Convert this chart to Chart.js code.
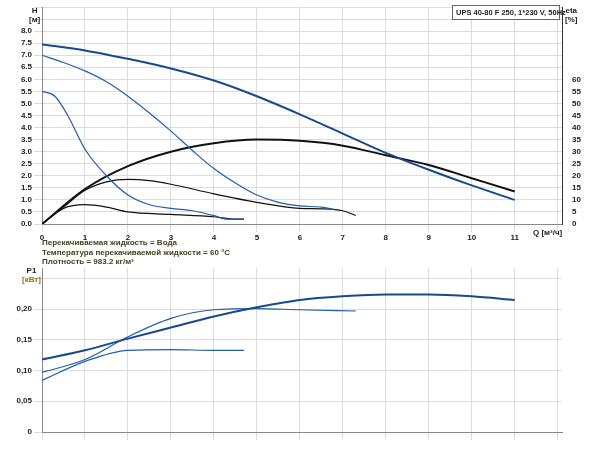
<!DOCTYPE html><html><head><meta charset="utf-8">
<script src="https://cdn.jsdelivr.net/npm/chart.js@4"></script>
<style>
body{margin:0;background:#fff;font-family:"Liberation Sans",Arial,sans-serif;}
.t{position:absolute;font-size:8px;font-weight:bold;color:#222;white-space:nowrap;line-height:9px}
</style></head><body>
<div style="position:absolute;left:0;top:0;width:600px;height:240px"><canvas id="c1"></canvas></div>
<div style="position:absolute;left:0;top:258px;width:600px;height:192px"><canvas id="c2"></canvas></div>
<div class="t" style="left:29px;top:6px;text-align:center">H<br>[м]</div>
<div class="t" style="left:565px;top:6px;text-align:center">eta<br>[%]</div>
<div class="t" style="left:533px;top:228px">Q [м³/ч]</div>
<div class="t" style="left:452px;top:5px;border:1px solid #666;padding:2px 3px;background:#fff;width:100px;font-size:7.5px;box-sizing:border-box;width:108px">UPS 40-80 F 250, 1*230 V, 50Hz</div>
<div class="t" style="left:42px;top:238px;color:#442">Перекачиваемая жидкость = Вода</div>
<div class="t" style="left:42px;top:248px;color:#442">Температура перекачиваемой жидкости = 60 °C</div>
<div class="t" style="left:42px;top:257px;color:#442">Плотность = 983.2 кг/м³</div>
<div class="t" style="left:22px;top:266px;text-align:center">P1<br><span style="color:#a60">[кВт]</span></div>
<script>
const hMaxQ=[0,1,2,3,4,5,6,7,8,9,10,11];
const hMaxV=[7.45,7.2,6.85,6.45,5.95,5.3,4.55,3.75,2.95,2.25,1.6,1.0];
const hMidQ=[0,0.5,1,1.5,2,2.5,3,3.5,4,4.5,5,5.5,6,6.5,6.8];
const hMidV=[7.0,6.7,6.35,5.9,5.3,4.6,3.85,3.05,2.3,1.7,1.2,0.9,0.75,0.7,0.6];
const hLowQ=[0,0.3,0.6,1,1.5,2,2.5,3,3.5,4,4.3,4.7];
const hLowV=[5.5,5.3,4.5,3.1,2.0,1.2,0.8,0.65,0.55,0.35,0.2,0.2];
const eMaxQ=[0,1,2,3,4,5,6,7,8,9,10,11];
const eMaxV=[0,14.5,24,30,33.5,35,34.5,32.5,28.5,24.5,19,13.5];
const eMidQ=[0,0.5,1,1.5,2,2.5,3,4,5,6,6.5,7,7.3];
const eMidV=[0,7,14,17.5,18.5,18,16.5,12.5,9,6.5,6.3,5.5,3.5];
const eLowQ=[0,0.5,1,1.5,2,3,4,4.5,4.7];
const eLowV=[0,6.5,8,7,5,4,3,2,2];
const pMaxQ=[0,1,2,3,4,5,6,7,8,9,10,11];
const pMaxV=[0.118,0.133,0.152,0.170,0.188,0.203,0.215,0.221,0.224,0.224,0.221,0.215];
const pMidQ=[0,1,2,3,4,5,6,7.3];
const pMidV=[0.097,0.118,0.155,0.185,0.199,0.201,0.199,0.197];
const pLowQ=[0,1,2,3,4,4.7];
const pLowV=[0.084,0.115,0.133,0.134,0.133,0.133];
const xTicks=[0,1,2,3,4,5,6,7,8,9,10,11];
const pts=(q,v)=>q.map((x,i)=>({x,y:v[i]}));
const blue='#1f5fa8',dblue='#174a8c',blk='#111';
const ds=(q,v,c,w,ax)=>({data:pts(q,v),borderColor:c,borderWidth:w,pointRadius:0,tension:0.4,cubicInterpolationMode:'monotone',fill:false,yAxisID:ax});
const grid={color:'#dcdcdc',lineWidth:1};
const tf={size:8,weight:'bold',family:'Liberation Sans'};
Chart.defaults.animation=false;
new Chart(document.getElementById('c1'),{type:'line',
data:{datasets:[ds(hMaxQ,hMaxV,dblue,2,'y'),ds(hMidQ,hMidV,blue,1.2,'y'),ds(hLowQ,hLowV,blue,1.2,'y'),
ds(eMaxQ,eMaxV,blk,2,'e'),ds(eMidQ,eMidV,blk,1.2,'e'),ds(eLowQ,eLowV,blk,1.2,'e')]},
options:{responsive:true,maintainAspectRatio:false,layout:{padding:{top:7,left:0,right:0,bottom:0}},
plugins:{legend:{display:false},tooltip:{enabled:false}},
scales:{x:{type:'linear',min:0,max:12.1,grid,border:{color:'#888'},
afterBuildTicks:a=>{a.ticks=[...xTicks,12].map(v=>({value:v}));},
ticks:{font:tf,color:'#222',padding:1,maxRotation:0,autoSkip:false,callback:v=>v<=11?v:''},afterFit:a=>{a.height=16;}},
y:{min:0,max:9,position:'left',grid,border:{color:'#888'},
afterBuildTicks:a=>{const t=[];for(let i=0;i<=18;i++)t.push({value:i*0.5});a.ticks=t;},
ticks:{font:tf,color:'#222',padding:2,autoSkip:false,callback:v=>v<=8?v.toFixed(1):''},afterFit:a=>{a.width=42;}},
e:{min:0,max:90,position:'right',grid:{display:false,drawTicks:true},border:{color:'#333'},
afterBuildTicks:a=>{const t=[];for(let i=0;i<=12;i++)t.push({value:i*5});a.ticks=t;},
ticks:{font:tf,color:'#222',padding:2,autoSkip:false,callback:v=>v},afterFit:a=>{a.width=38;}}}}});
new Chart(document.getElementById('c2'),{type:'line',
data:{datasets:[ds(pMaxQ,pMaxV,dblue,2,'y'),ds(pMidQ,pMidV,blue,1.2,'y'),ds(pLowQ,pLowV,blue,1.2,'y')]},
options:{responsive:true,maintainAspectRatio:false,layout:{padding:{top:10,left:0,right:38,bottom:0}},
plugins:{legend:{display:false},tooltip:{enabled:false}},
scales:{x:{type:'linear',min:0,max:12.1,grid,border:{color:'#888'},
afterBuildTicks:a=>{a.ticks=[...xTicks,12].map(v=>({value:v}));},
ticks:{display:false},afterFit:a=>{a.height=18;}},
y:{min:0,max:0.267,grid,border:{color:'#888'},
afterBuildTicks:a=>{const t=[];for(let i=0;i<=5;i++)t.push({value:i*0.05});a.ticks=t;},
ticks:{font:tf,color:'#222',padding:2,autoSkip:false,callback:v=>v===0?'0':(v>0.24?'':v.toFixed(2).replace('.',','))},afterFit:a=>{a.width=42;}}}}});
</script></body></html>
